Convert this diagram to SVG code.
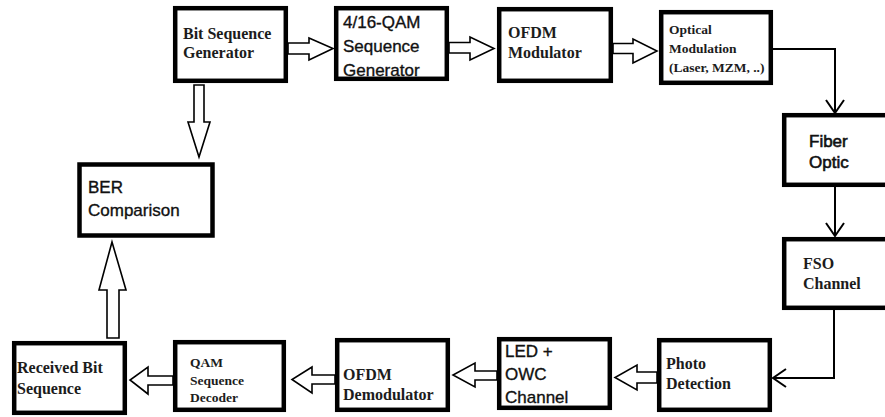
<svg xmlns="http://www.w3.org/2000/svg" width="885" height="417" viewBox="0 0 885 417">
<style>
.box{fill:#fff;stroke:#000;stroke-width:4.5}
.tr{font-family:"Liberation Serif","Times New Roman",serif;font-weight:bold;font-size:16px;fill:#1c1c1c}
.trs{font-family:"Liberation Serif","Times New Roman",serif;font-weight:bold;font-size:13.5px;fill:#1c1c1c}
.ca{font-family:"Liberation Sans",Arial,sans-serif;font-size:17px;fill:#111;stroke:#111;stroke-width:0.35}
.cab{font-family:"Liberation Sans",Arial,sans-serif;font-size:17px;fill:#111;stroke:#111;stroke-width:0.6}
.harrow{fill:#fff;stroke:#000;stroke-width:1.6;stroke-linejoin:miter}
.line{fill:none;stroke:#000;stroke-width:2}
</style>
<defs>
<marker id="vhead" markerUnits="userSpaceOnUse" markerWidth="16" markerHeight="20" viewBox="0 0 16 20" refX="14" refY="10" orient="auto">
<path d="M1,1 L14,10 L1,19" fill="none" stroke="#000" stroke-width="2"/>
</marker>
</defs>
<rect width="885" height="417" fill="#fff"/>

<g id="connectors">
<polygon class="harrow" points="288,43 309,43 309,38 333,48.5 309,60 309,54 288,54"/>
<polygon class="harrow" points="449,42.5 470,42.5 470,37 494,48.5 470,60 470,53 449,53"/>
<polygon class="harrow" points="613,43.5 633,43.5 633,39 657,51 633,63 633,53.5 613,53.5"/>
<path class="line" d="M773,49 H835 V113" marker-end="url(#vhead)"/>
<path class="line" d="M835,187 V236" marker-end="url(#vhead)"/>
<path class="line" d="M834,310 V378 H773" marker-end="url(#vhead)"/>
<polygon class="harrow" points="657,372 637,372 637,365 615,377.5 637,390 637,383 657,383"/>
<polygon class="harrow" points="497,371 475,371 475,363 453,375 475,387 475,380 497,380"/>
<polygon class="harrow" points="335,375 312,375 312,367 292,379.5 312,393 312,384 335,384"/>
<polygon class="harrow" points="173,376 148,376 148,367 130,380 148,394 148,385 173,385"/>
<polygon class="harrow" points="194,85 204,85 204,122 210,122 199,157 188,122 194,122"/>
<polygon class="harrow" points="107,338 107,290 99,290 112,242 126,290 119,290 119,338"/>
</g>

<g id="bit-sequence-generator">
<rect class="box" x="175.2" y="8.2" width="110.6" height="72.6"/>
<text class="tr" x="183" y="39">Bit Sequence</text>
<text class="tr" x="183" y="58">Generator</text>
</g>

<g id="qam-sequence-generator">
<rect class="box" x="336.2" y="8.2" width="110.6" height="70.6"/>
<text class="ca" x="343" y="28">4/16-QAM</text>
<text class="ca" x="343" y="52">Sequence</text>
<text class="ca" x="343" y="76">Generator</text>
</g>

<g id="ofdm-modulator">
<rect class="box" x="499.2" y="9.2" width="111.6" height="71.6"/>
<text class="tr" x="508" y="38">OFDM</text>
<text class="tr" x="508" y="58">Modulator</text>
</g>

<g id="optical-modulation">
<rect class="box" x="661.2" y="12.2" width="109.6" height="70.6"/>
<text class="trs" x="669" y="34">Optical</text>
<text class="trs" x="669" y="53">Modulation</text>
<text class="trs" x="669" y="72">(Laser, MZM, ..)</text>
</g>

<g id="fiber-optic">
<rect class="box" x="784.2" y="115.2" width="110" height="69.6"/>
<text class="cab" x="809" y="147">Fiber</text>
<text class="cab" x="809" y="168">Optic</text>
</g>

<g id="fso-channel">
<rect class="box" x="784.2" y="239.2" width="110" height="68.6"/>
<text class="tr" x="803" y="269">FSO</text>
<text class="tr" x="803" y="289">Channel</text>
</g>

<g id="photo-detection">
<rect class="box" x="659.2" y="340.2" width="110.6" height="69.6"/>
<text class="tr" x="666" y="369">Photo</text>
<text class="tr" x="666" y="389">Detection</text>
</g>

<g id="led-owc-channel">
<rect class="box" x="499.2" y="339.2" width="110.6" height="68.6"/>
<text class="ca" x="505" y="357">LED +</text>
<text class="ca" x="505" y="380">OWC</text>
<text class="ca" x="505" y="403">Channel</text>
</g>

<g id="ofdm-demodulator">
<rect class="box" x="337.2" y="340.2" width="110.6" height="69.6"/>
<text class="tr" x="343" y="380">OFDM</text>
<text class="tr" x="343" y="400">Demodulator</text>
</g>

<g id="qam-sequence-decoder">
<rect class="box" x="175.2" y="342.2" width="108.6" height="67.6"/>
<text class="trs" x="190" y="367">QAM</text>
<text class="trs" x="190" y="385">Sequence</text>
<text class="trs" x="190" y="402">Decoder</text>
</g>

<g id="received-bit-sequence">
<rect class="box" x="14.2" y="343.2" width="110.6" height="69.6"/>
<text class="tr" x="17" y="373">Received Bit</text>
<text class="tr" x="17" y="394">Sequence</text>
</g>

<g id="ber-comparison">
<rect class="box" x="79.5" y="164.5" width="133" height="71"/>
<text class="ca" x="88" y="193" font-size="18">BER</text>
<text class="ca" x="88" y="216" font-size="18">Comparison</text>
</g>
</svg>
